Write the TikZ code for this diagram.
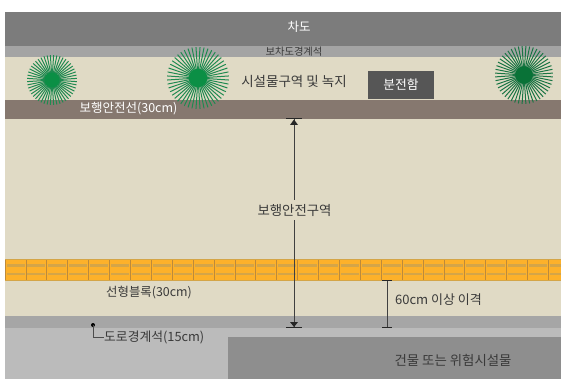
\documentclass[tikz,border=0pt]{standalone}
\usepackage{fontspec}
\setmainfont{Noto Sans CJK KR}
\definecolor{road}{HTML}{7C7C7C}
\definecolor{curbtop}{HTML}{A4A4A4}
\definecolor{cream}{HTML}{E0DAC5}
\definecolor{brownband}{HTML}{86786F}
\definecolor{curbbot}{HTML}{A6A6A6}
\definecolor{lowgray}{HTML}{BBBBBB}
\definecolor{building}{HTML}{8E8E8E}
\definecolor{boxgray}{HTML}{565656}
\definecolor{tile}{HTML}{FDB12A}
\definecolor{tileline}{HTML}{D4A548}
\definecolor{tilejoint}{HTML}{BD8A3A}
\definecolor{ray}{HTML}{1F8A50}
\definecolor{core}{HTML}{0B8F45}
\definecolor{txt}{HTML}{3A3A3A}
\tikzset{
  band/.style={fill=#1,draw=none},
  lab/.style={font=\fontsize{#1}{15}\selectfont,text=txt,inner sep=0pt},
  lab/.default=13,
  wlab/.style={lab=#1,text=white},
  wlab/.default=13,
  dimline/.style={draw=black!75,line width=1pt},
  capline/.style={draw=black!85,line width=1pt},
}
\newcommand{\burst}[5]{%
  \foreach \a in {3.75,11.25,...,360}
    \draw[draw=#5,line width=1pt] (#1,#2) -- ++({#3*cos(\a)},{#3*sin(\a)});
  \fill[#4] (#1,#2) circle (#3*0.3);
}
\begin{document}
\begin{tikzpicture}[x=1pt,y=-1pt]
\useasboundingbox (0,0) rectangle (561,379);
\fill[white] (0,0) rectangle (561,379);
\fill[band=road] (5,12) rectangle (561,46);
\fill[band=curbtop] (5,46) rectangle (561,57);
\fill[band=cream] (5,57) rectangle (561,316);
\fill[band=brownband] (5,100) rectangle (561,119);
\fill[band=curbbot] (5,316) rectangle (561,328);
\fill[band=lowgray] (5,328) rectangle (561,379);
\fill[band=building] (228,337) rectangle (561,379);
% tactile blocks
\fill[band=tile] (5,259.5) rectangle (561,280);
\foreach \x in {5,25.9,...,560} {
  \draw[tileline,line width=2.4pt] (\x+1.5,265.3) -- (\x+19.5,265.3);
  \draw[tileline,line width=2.4pt] (\x+1.5,273.8) -- (\x+19.5,273.8);
  \draw[tilejoint,line width=0.8pt] (\x,259.5) -- (\x,280);
}
\draw[tileline,line width=0.6pt] (5,259.5) -- (561,259.5) (5,280) -- (561,280);
% plants
\burst{52}{80}{25}{core}{ray}
\burst{198}{78}{31}{core}{ray}
\burst{524}{75}{29}{core!80!black}{ray!85!black}
% box
\node[fill=boxgray,draw=none,minimum width=66pt,minimum height=28pt,inner sep=0pt,text=white,font=\fontsize{12.8}{15}\selectfont] (box) at (401,85) {분전함};
% labels
\node[wlab=12.5] (cha) at (299,27) {차도};
\node[lab=10.3] (curb) at (294,51.5) {보차도경계석};
\node[lab=13.5] (fac) at (294,81) {시설물구역 및 녹지};
\node[wlab=12.5] (safe) at (128.5,109) {보행안전선(30cm)};
\node[lab=13.4,minimum height=20pt] (zone) at (294.5,210) {보행안전구역};
\node[lab=12.4] (lin) at (149,293) {선형블록(30cm)};
\node[lab=13] (sixty) at (438.5,300) {60cm 이상 이격};
\node[lab=12.8,anchor=west] (rd) at (104,337) {도로경계석(15cm)};
\node[lab=13.4] (bld) at (453,360) {건물 또는 위험시설물};
% dimension: safety zone
\coordinate (at) at (294,119.5);
\coordinate (ab) at (294,327);
\draw[dimline] (at) -- (at |- zone.north);
\draw[dimline] (ab |- zone.south) -- (ab);
\draw[capline] (286,119) -- (302,119);
\draw[capline] (286,327.5) -- (302,327.5);
\fill[black!85] (294,119.5) -- (290,125) -- (298,125) -- cycle;
\fill[black!85] (294,327) -- (290,322) -- (298,322) -- cycle;
% dimension: 60 cm
\coordinate (bt) at (387,280);
\coordinate (bb) at (387,327);
\draw[dimline] (bt) -- (bb);
\draw[capline] (382,280) -- (392,280);
\draw[capline] (382,327.5) -- (392,327.5);
% leader
\coordinate (ld) at (93,325);
\fill[black] (ld) circle (2pt);
\draw[draw=black!70,line width=0.7pt] (ld) |- (rd.west);
\end{tikzpicture}
\end{document}
